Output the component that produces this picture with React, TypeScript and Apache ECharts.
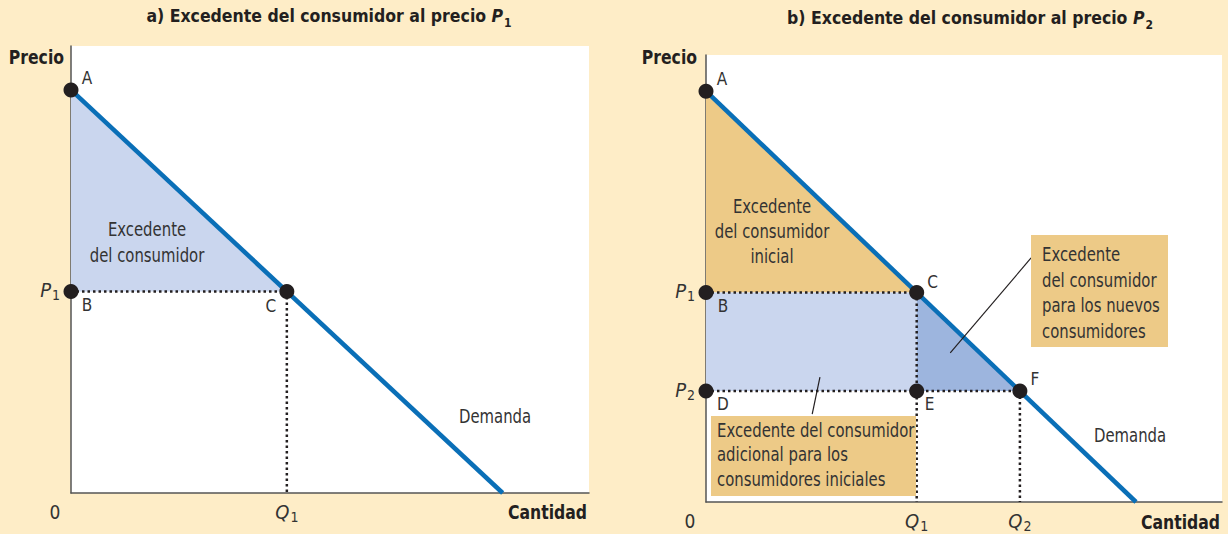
import React, { useEffect, useRef } from 'react';
import * as echarts from 'echarts';

// ---- data ----
const demandCurve: number[][] = [[0, 10], [10, 0]];
const pricesA = [5]; // P1
const quantitiesA = [5]; // Q1
const pricesB = [5.1, 2.7]; // P1, P2
const quantitiesB = [4.9, 7.3]; // Q1, Q2
const priceLabels = ['P1', 'P2'];
const quantityLabels = ['Q1', 'Q2'];
const pointNamesA = ['A', 'B', 'C'];
const pointNamesB = ['A', 'B', 'C', 'D', 'E', 'F'];
const leaderNew: number[][] = [[5.68, 3.63], [7.56, 5.94]];
const leaderAdditional: number[][] = [[2.65, 3.04], [2.47, 2.14]];
const axisMaxX = [12, 12];
const axisMaxY = [11.09, 10.88];

// ---- styles ----
const FONT = "'DejaVu Sans Condensed', 'Liberation Sans', sans-serif";
const BG = '#FEEDC7';
const TAN = '#EDCA87';
const LIGHT_BLUE = '#CAD6EE';
const MID_BLUE = '#9DB5DE';
const LINE_BLUE = '#0A6FB7';
const DOT = '#231F20';
const TEXT = '#333333';
const AXIS = '#555555';
const SX = 0.87;

const offsetsA: number[][] = [[16, -12], [16, 14], [-16, 15]];
const offsetsB: number[][] = [[16, -12], [17, 14], [16, -10], [17, 13], [13, 13], [15, -12]];

const subRich = {
  i: { fontFamily: FONT, fontSize: 20, fontStyle: 'italic', color: TEXT, verticalAlign: 'top', lineHeight: 22 },
  s: { fontFamily: FONT, fontSize: 14, color: TEXT, verticalAlign: 'bottom', lineHeight: 14, padding: [8, 0, 0, 1] },
};

const fmtSub = (s: string) => `{i|${s[0]}}{s|${s.slice(1)}}`;

function polygonSeries(grid: number, pts: number[][], color: string, z: number) {
  return {
    type: 'custom',
    xAxisIndex: grid,
    yAxisIndex: grid,
    z,
    silent: true,
    data: pts,
    renderItem: (params: any, api: any) => {
      if (params.dataIndex !== 0) return null;
      return {
        type: 'polygon',
        shape: { points: pts.map((p) => api.coord(p)) },
        style: { fill: color },
      };
    },
  };
}

function dotted(grid: number, pts: number[][]) {
  return {
    type: 'line',
    xAxisIndex: grid,
    yAxisIndex: grid,
    z: 3,
    silent: true,
    symbol: 'none',
    data: pts,
    lineStyle: { color: DOT, width: 2.5, type: [2.5, 3] },
  };
}

function solid(grid: number, pts: number[][], color: string, width: number, z: number) {
  return {
    type: 'line',
    xAxisIndex: grid,
    yAxisIndex: grid,
    z,
    silent: true,
    symbol: 'none',
    data: pts,
    lineStyle: { color, width, cap: 'butt' },
  };
}

function dots(grid: number, pts: number[][], names: string[], offsets: number[][]) {
  return {
    type: 'scatter',
    xAxisIndex: grid,
    yAxisIndex: grid,
    z: 6,
    silent: true,
    symbol: 'circle',
    symbolSize: 15,
    itemStyle: { color: DOT, opacity: 1 },
    clip: false,
    data: pts.map((p, i) => ({
      value: p,
      name: names[i],
      label: {
        show: true,
        position: 'inside',
        offset: offsets[i],
        formatter: names[i],
        fontFamily: FONT,
        fontSize: 17,
        color: TEXT,
      },
    })),
  };
}

function axes(grid: number, prices: number[], quantities: number[]) {
  const x = {
    type: 'value',
    gridIndex: grid,
    min: 0,
    max: axisMaxX[grid],
    axisLine: { show: true, lineStyle: { color: AXIS, width: 1.5 } },
    axisTick: { show: false },
    splitLine: { show: false },
    axisLabel: {
      customValues: quantities,
      margin: 9,
      formatter: (v: number) => fmtSub(quantityLabels[quantities.indexOf(v)] || ''),
      rich: subRich,
    },
  };
  const y = {
    type: 'value',
    gridIndex: grid,
    min: 0,
    max: axisMaxY[grid],
    axisLine: { show: true, lineStyle: { color: AXIS, width: 1.5 } },
    axisTick: { show: false },
    splitLine: { show: false },
    axisLabel: {
      customValues: prices,
      margin: 11,
      formatter: (v: number) => fmtSub(priceLabels[prices.indexOf(v)] || ''),
      rich: subRich,
    },
  };
  return { x, y };
}

function txt(x: number, y: number, text: string, opts: any = {}, scale: number = SX) {
  return {
    type: 'text',
    x,
    y,
    scaleX: scale,
    z: 20,
    silent: true,
    style: {
      text,
      fontFamily: FONT,
      fontSize: 19,
      fill: TEXT,
      align: 'left',
      verticalAlign: 'middle',
      ...opts,
    },
  };
}

function titleText(x: number, y: number, prefix: string, sub: string) {
  return {
    type: 'text',
    x,
    y,
    z: 20,
    silent: true,
    style: {
      text: `{t|${prefix}}{p|P}{s|${sub}}`,
      align: 'center',
      verticalAlign: 'middle',
      rich: {
        t: { fontFamily: FONT, fontSize: 17.5, fontWeight: 'bold', fill: '#231F20', verticalAlign: 'top', lineHeight: 22 },
        p: { fontFamily: FONT, fontSize: 17.5, fontWeight: 'bold', fontStyle: 'italic', fill: '#231F20', verticalAlign: 'top', lineHeight: 22 },
        s: { fontFamily: FONT, fontSize: 12, fontWeight: 'bold', fill: '#231F20', verticalAlign: 'bottom', lineHeight: 12, padding: [14, 0, 0, 1] },
      },
    },
  };
}

export default function App() {
  const ref = useRef<HTMLDivElement>(null);

  useEffect(() => {
    if (!ref.current) return;
    const chart = echarts.init(ref.current, undefined, { renderer: 'svg' });

    const a = axes(0, pricesA, quantitiesA);
    const b = axes(1, pricesB, quantitiesB);

    const topP = demandCurve[0][1];
    const A_a = [0, topP];
    const B_a = [0, pricesA[0]];
    const C_a = [quantitiesA[0], pricesA[0]];
    const A_b = [0, topP];
    const B_b = [0, pricesB[0]];
    const C_b = [quantitiesB[0], pricesB[0]];
    const D_b = [0, pricesB[1]];
    const E_b = [quantitiesB[0], pricesB[1]];
    const F_b = [quantitiesB[1], pricesB[1]];

    const bold = { fontWeight: 'bold', fill: '#231F20', fontSize: 20 };

    const option: any = {
      animation: false,
      backgroundColor: BG,
      grid: [
        { left: 71, top: 46, width: 518, height: 447, show: true, backgroundColor: '#ffffff', borderWidth: 0 },
        { left: 706, top: 55, width: 516, height: 447, show: true, backgroundColor: '#ffffff', borderWidth: 0 },
      ],
      xAxis: [a.x, b.x],
      yAxis: [a.y, b.y],
      series: [
        // panel a
        polygonSeries(0, [A_a, B_a, C_a], LIGHT_BLUE, 1),
        dotted(0, [B_a, C_a]),
        dotted(0, [C_a, [quantitiesA[0], 0]]),
        solid(0, demandCurve, LINE_BLUE, 4.5, 4),
        dots(0, [A_a, B_a, C_a], pointNamesA, offsetsA),
        // panel b
        polygonSeries(1, [A_b, B_b, C_b], TAN, 1),
        polygonSeries(1, [B_b, C_b, E_b, D_b], LIGHT_BLUE, 1),
        polygonSeries(1, [C_b, F_b, E_b], MID_BLUE, 1),
        dotted(1, [B_b, C_b]),
        dotted(1, [D_b, F_b]),
        dotted(1, [C_b, [quantitiesB[0], 0]]),
        dotted(1, [F_b, [quantitiesB[1], 0]]),
        solid(1, demandCurve, LINE_BLUE, 4.5, 4),
        solid(1, leaderNew, DOT, 1.2, 5),
        solid(1, leaderAdditional, DOT, 1.2, 5),
        dots(1, [A_b, B_b, C_b, D_b, E_b, F_b], pointNamesB, offsetsB),
      ],
      graphic: [
        titleText(329, 18, 'a) Excedente del consumidor al precio ', '1'),
        titleText(970, 20, 'b) Excedente del consumidor al precio ', '2'),
        // axis names
        txt(64, 57, 'Precio', { align: 'right', ...bold }),
        txt(697, 57, 'Precio', { align: 'right', ...bold }),
        txt(587, 512, 'Cantidad', { align: 'right', ...bold }),
        txt(1220, 522, 'Cantidad', { align: 'right', ...bold }),
        txt(55, 512, '0', { align: 'center' }, 1),
        txt(690, 521, '0', { align: 'center' }, 1),
        // curve labels
        txt(459, 416, 'Demanda'),
        txt(1094, 435, 'Demanda'),
        // area labels
        txt(147, 242, 'Excedente\ndel consumidor', { align: 'center', lineHeight: 26 }),
        txt(772, 231, 'Excedente\ndel consumidor\ninicial', { align: 'center', lineHeight: 25 }),
        // callout boxes
        { type: 'rect', z: 15, silent: true, shape: { x: 1031, y: 235, width: 137, height: 112 }, style: { fill: TAN } },
        txt(1042, 292.5, 'Excedente\ndel consumidor\npara los nuevos\nconsumidores', { lineHeight: 25.7 }),
        { type: 'rect', z: 15, silent: true, shape: { x: 711, y: 416, width: 205, height: 80 }, style: { fill: TAN } },
        txt(717, 454.5, 'Excedente del consumidor\nadicional para los\nconsumidores iniciales', { lineHeight: 24.5 }),
      ],
    };

    chart.setOption(option);
    return () => chart.dispose();
  }, []);

  return (
    <div
      ref={ref}
      style={{ position: 'absolute', left: 0, top: 0, width: 1228, height: 534 }}
    />
  );
}
